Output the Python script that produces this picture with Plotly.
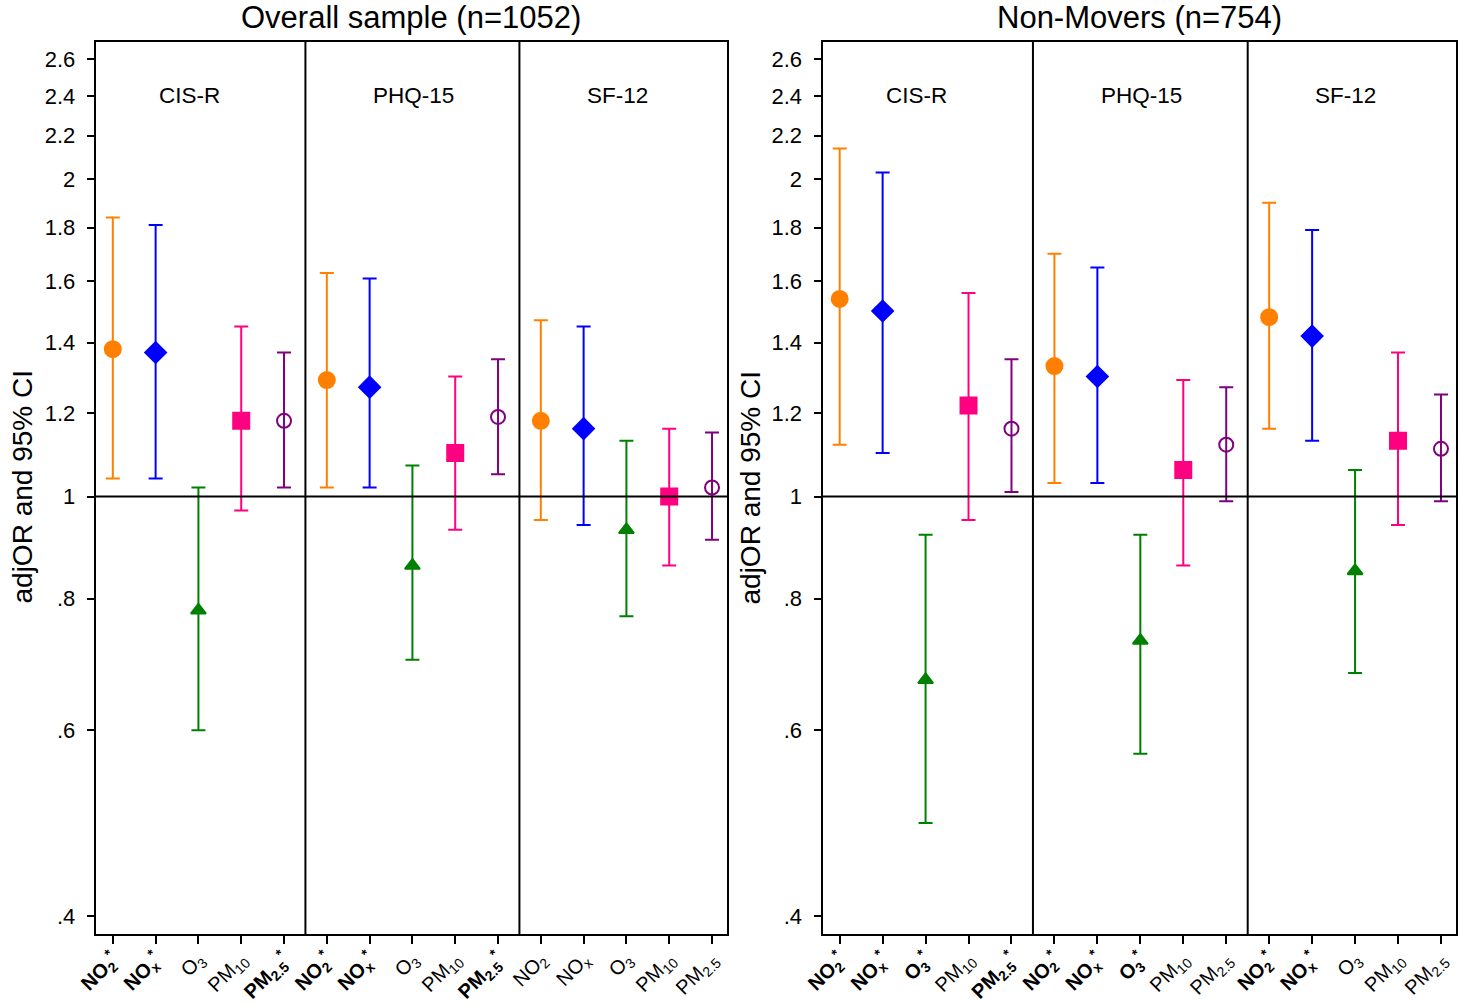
import plotly.graph_objects as go
import math

pollutants = ["NO2", "NOx", "O3", "PM10", "PM2.5"]
outcomes = ["CIS-R", "PHQ-15", "SF-12"]
panel_titles = ["Overall sample (n=1052)", "Non-Movers (n=754)"]

# Overall sample: estimates and CIs per outcome (order: NO2, NOx, O3, PM10, PM2.5)
overall_est = [[1.38, 1.37, 0.78, 1.18, 1.18],
               [1.29, 1.27, 0.86, 1.10, 1.19],
               [1.18, 1.16, 0.93, 1.00, 1.02]]
overall_lo = [[1.04, 1.04, 0.60, 0.97, 1.02],
              [1.02, 1.02, 0.70, 0.93, 1.05],
              [0.95, 0.94, 0.77, 0.86, 0.91]]
overall_hi = [[1.84, 1.81, 1.02, 1.45, 1.37],
              [1.63, 1.61, 1.07, 1.30, 1.35],
              [1.47, 1.45, 1.13, 1.16, 1.15]]
overall_sig = [[1, 1, 0, 0, 1],
               [1, 1, 0, 0, 1],
               [0, 0, 0, 0, 0]]

# Non-movers
nonmov_est = [[1.54, 1.50, 0.67, 1.22, 1.16],
              [1.33, 1.30, 0.73, 1.06, 1.12],
              [1.48, 1.42, 0.85, 1.13, 1.11]]
nonmov_lo = [[1.12, 1.10, 0.49, 0.95, 1.01],
             [1.03, 1.03, 0.57, 0.86, 0.99],
             [1.16, 1.13, 0.68, 0.94, 0.99]]
nonmov_hi = [[2.14, 2.03, 0.92, 1.56, 1.35],
             [1.70, 1.65, 0.92, 1.29, 1.27],
             [1.90, 1.79, 1.06, 1.37, 1.25]]
nonmov_sig = [[1, 1, 1, 0, 1],
              [1, 1, 1, 0, 0],
              [1, 1, 0, 0, 0]]

ytick_vals = [0.4, 0.6, 0.8, 1.0, 1.2, 1.4, 1.6, 1.8, 2.0, 2.2, 2.4, 2.6]
ytick_text = [".4", ".6", ".8", "1", "1.2", "1.4", "1.6", "1.8", "2", "2.2", "2.4", "2.6"]

colors = ["#FF8000", "#0000FF", "#008000", "#FF0080", "#800080"]
symbols = ["circle", "diamond", "triangle-up", "square", "circle-open"]
msizes = [16, 16, 13, 16, 14]

label_html = {
    "NO2": "NO<sub>2</sub>",
    "NOx": "NO<sub>x</sub>",
    "O3": "O<sub>3</sub>",
    "PM10": "PM<sub>10</sub>",
    "PM2.5": "PM<sub>2.5</sub>",
}

FONT = "Liberation Sans, Arial, sans-serif"
W, H = 1461, 1005


def px(x):
    return x / W


def py(y):
    return 1 - y / H


fig = go.Figure()

panels = [(overall_est, overall_lo, overall_hi, overall_sig),
          (nonmov_est, nonmov_lo, nonmov_hi, nonmov_sig)]

x_domains = [(px(95.7), px(727)), (px(822.5), px(1456))]
y_domain = (py(934), py(42))
ytitle_x = [px(22), px(750)]

for p, (est, lo, hi, sig) in enumerate(panels):
    xa = "x" if p == 0 else "x2"
    ya = "y" if p == 0 else "y2"
    ticktext = []
    for o in range(3):
        for k in range(5):
            lab = label_html[pollutants[k]]
            if sig[o][k]:
                lab = "<b>" + lab + "<sup>*</sup></b>"
            ticktext.append(lab)
    for k in range(5):
        xs = [o * 5 + k for o in range(3)]
        ys = [est[o][k] for o in range(3)]
        up = [hi[o][k] - est[o][k] for o in range(3)]
        dn = [est[o][k] - lo[o][k] for o in range(3)]
        fig.add_trace(go.Scatter(
            x=xs, y=ys, mode="markers", xaxis=xa, yaxis=ya,
            marker=dict(symbol=symbols[k], size=msizes[k], color=colors[k],
                        line=dict(width=2, color=colors[k])),
            error_y=dict(type="data", symmetric=False, array=up, arrayminus=dn,
                         color=colors[k], thickness=2, width=7),
            showlegend=False, hoverinfo="skip"))
    axis_common = dict(showline=True, linecolor="black", linewidth=2, mirror=True,
                       showgrid=False, zeroline=False, ticks="outside",
                       tickcolor="black", tickwidth=2, automargin=False)
    xkey = "xaxis" if p == 0 else "xaxis2"
    ykey = "yaxis" if p == 0 else "yaxis2"
    fig.update_layout(**{
        xkey: dict(domain=list(x_domains[p]), range=[-0.4, 14.35], anchor=ya,
                   tickmode="array", tickvals=list(range(15)), ticktext=ticktext,
                   tickangle=-45, ticklen=8, ticklabelstandoff=-4,
                   tickfont=dict(family=FONT, size=20, color="black"), **axis_common),
        ykey: dict(domain=list(y_domain), type="log",
                   range=[math.log10(0.3845), math.log10(2.70)], anchor=xa,
                   tickmode="array", tickvals=ytick_vals, ticktext=ytick_text,
                   ticklen=7, ticklabelstandoff=7,
                   tickfont=dict(family=FONT, size=22, color="black"),
                   **axis_common),
    })
    # separators and reference line
    for sx in [4.5, 9.5]:
        fig.add_shape(type="line", xref=xa, yref="paper", x0=sx, x1=sx,
                      y0=y_domain[0], y1=y_domain[1],
                      line=dict(color="black", width=2))
    fig.add_shape(type="line", xref="paper", yref=ya,
                  x0=x_domains[p][0], x1=x_domains[p][1], y0=1, y1=1,
                  line=dict(color="black", width=2))
    for o in range(3):
        fig.add_annotation(x=o * 5 + 1.03, y=math.log10(2.4), xref=xa, yref=ya,
                           text=outcomes[o], showarrow=False, xanchor="left",
                           yanchor="middle",
                           font=dict(family=FONT, size=22.5, color="black"))
    fig.add_annotation(x=(x_domains[p][0] + x_domains[p][1]) / 2, y=py(18),
                       xref="paper", yref="paper", text=panel_titles[p],
                       showarrow=False, xanchor="center", yanchor="middle",
                       font=dict(family=FONT, size=31, color="black"))
    fig.add_annotation(x=ytitle_x[p], y=py(487.5), xref="paper", yref="paper",
                       text="adjOR and 95% CI", textangle=-90, showarrow=False,
                       xanchor="center", yanchor="middle",
                       font=dict(family=FONT, size=28, color="black"))

fig.update_layout(width=W, height=H, margin=dict(l=0, r=0, t=0, b=0),
                  paper_bgcolor="white", plot_bgcolor="white")

# remove the default page margin so the figure sits at the window's top-left
fig.write_html("out.html", config={"displayModeBar": False},
               post_script="document.body.style.margin='0';document.body.style.overflow='hidden';")
